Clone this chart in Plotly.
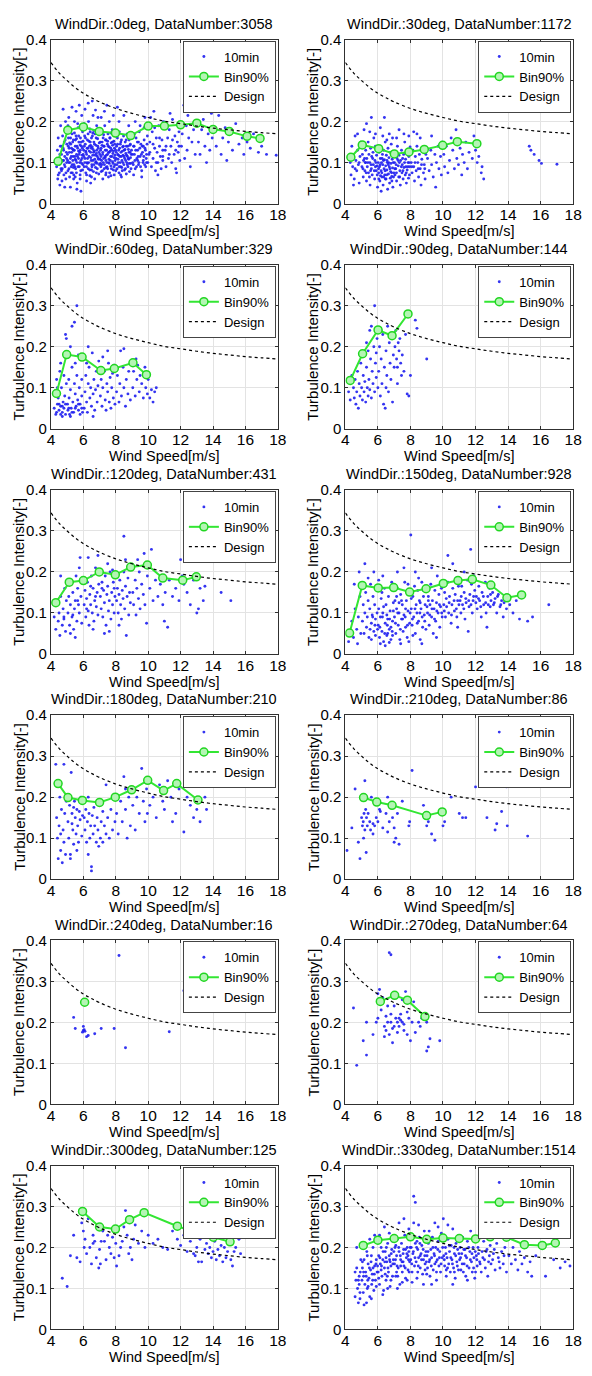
import plotly.graph_objects as go

W, H = 592, 1376

wind_dirs = [0, 30, 60, 90, 120, 150, 180, 210, 240, 270, 300, 330]
data_numbers = [3058, 1172, 329, 144, 431, 928, 210, 86, 16, 64, 125, 1514]

x_ticks = [4, 6, 8, 10, 12, 14, 16, 18]
y_ticks = [0, 0.1, 0.2, 0.3, 0.4]
y_tick_text = ["0", "0.1", "0.2", "0.3", "0.4"]

# Design curve values
design_ws = [4, 4.5, 5, 5.5, 6, 6.5, 7, 8, 9, 10, 11, 12, 13, 14, 15, 16, 17, 18]
design_ti = [0.344, 0.319, 0.300, 0.283, 0.269, 0.258, 0.248, 0.232, 0.220, 0.210,
             0.201, 0.195, 0.189, 0.184, 0.180, 0.176, 0.173, 0.170]

# Bin 90% values (wind speed, turbulence intensity)
bin_x_0 = [4.44, 5.04, 6.0, 6.98, 7.98, 8.92, 10.0, 11.0, 12.0, 13.0, 14.0, 15.0, 16.1, 16.9]
bin_y_0 = [0.103, 0.179, 0.187, 0.176, 0.172, 0.166, 0.189, 0.189, 0.192, 0.196, 0.181, 0.176, 0.164, 0.159]
bin_x_30 = [4.34, 5.04, 6.05, 7.01, 7.91, 8.85, 9.98, 10.88, 12.08]
bin_y_30 = [0.113, 0.143, 0.134, 0.121, 0.126, 0.132, 0.142, 0.151, 0.146]
bin_x_60 = [4.34, 4.97, 5.92, 7.08, 7.91, 9.06, 9.89]
bin_y_60 = [0.086, 0.181, 0.175, 0.142, 0.147, 0.161, 0.132]
bin_x_90 = [4.30, 5.06, 6.01, 6.87, 7.85]
bin_y_90 = [0.118, 0.183, 0.241, 0.227, 0.280]
bin_x_120 = [4.30, 5.13, 6.00, 6.98, 7.97, 8.92, 9.95, 10.90, 12.13, 12.97]
bin_y_120 = [0.125, 0.175, 0.179, 0.200, 0.193, 0.212, 0.217, 0.185, 0.180, 0.188]
bin_x_150 = [4.26, 5.04, 6.02, 6.97, 7.95, 8.96, 10.02, 10.92, 11.8, 12.94, 13.93, 14.83]
bin_y_150 = [0.051, 0.167, 0.161, 0.162, 0.151, 0.159, 0.172, 0.179, 0.182, 0.168, 0.137, 0.144]
bin_x_180 = [4.44, 5.05, 5.94, 7.00, 7.97, 8.98, 9.97, 10.95, 11.76, 13.07]
bin_y_180 = [0.233, 0.199, 0.192, 0.187, 0.200, 0.218, 0.241, 0.216, 0.233, 0.193]
bin_x_210 = [5.12, 5.93, 6.87, 8.99, 9.95]
bin_y_210 = [0.199, 0.188, 0.180, 0.155, 0.164]
bin_x_240 = [6.08]
bin_y_240 = [0.249]
bin_x_270 = [6.15, 7.03, 7.81, 8.89]
bin_y_270 = [0.251, 0.266, 0.254, 0.214]
bin_x_300 = [5.95, 7.0, 7.98, 8.85, 9.75, 11.8, 13.05, 14.02, 15.05]
bin_y_300 = [0.288, 0.250, 0.245, 0.268, 0.285, 0.252, 0.235, 0.225, 0.214]
bin_x_330 = [5.1, 6.0, 7.0, 8.0, 9.0, 10.0, 11.0, 12.0, 12.9, 13.9, 15.0, 16.1, 16.9]
bin_y_330 = [0.205, 0.218, 0.222, 0.226, 0.220, 0.223, 0.222, 0.221, 0.226, 0.225, 0.207, 0.205, 0.211]

# 10-minute samples (wind speed, turbulence intensity), read approximately from the clouds
pts_0 = [
    (4.35,.09),(4.4,.13),(4.42,.06),(4.45,.16),(4.5,.11),(4.52,.075),(4.55,.045),(4.58,.14),(4.6,.19),(4.62,.1),
    (4.65,.12),(4.68,.055),(4.7,.085),(4.72,.165),(4.75,.135),(4.78,.105),(4.8,.07),(4.82,.15),(4.85,.115),(4.87,.09),
    (4.9,.175),(4.92,.06),(4.95,.125),(4.97,.1),(4.98,.145),(4.5,.095),(4.65,.08),(4.85,.04),(4.9,.2),(4.75,.23),
    (5.02,.12),(5.05,.08),(5.08,.16),(5.1,.1),(5.12,.135),(5.15,.065),(5.18,.18),(5.2,.11),(5.22,.145),(5.25,.09),
    (5.28,.125),(5.3,.17),(5.32,.075),(5.35,.105),(5.38,.155),(5.4,.13),(5.42,.095),(5.45,.2),(5.48,.115),(5.5,.14),
    (5.52,.085),(5.55,.165),(5.58,.12),(5.6,.1),(5.62,.05),(5.65,.135),(5.68,.185),(5.7,.11),(5.72,.15),(5.75,.09),
    (5.78,.125),(5.8,.07),(5.82,.16),(5.85,.105),(5.88,.14),(5.9,.215),(5.92,.118),(5.95,.082),(5.98,.152),(5.1,.21),
    (5.3,.235),(5.55,.225),(5.75,.24),(5.2,.04),(5.6,.035),(5.85,.03),(5.4,.06),(5.05,.19),(5.65,.195),(5.95,.175),
    (5.15,.148),(5.35,.132),(5.5,.108),(5.7,.128),(5.9,.098),(5.25,.115),(5.45,.172),(5.8,.143),(5.58,.158),(5.38,.088),
    (6.02,.13),(6.05,.09),(6.08,.165),(6.1,.11),(6.12,.145),(6.15,.075),(6.18,.185),(6.2,.12),(6.22,.1),(6.25,.155),
    (6.28,.135),(6.3,.085),(6.32,.2),(6.35,.115),(6.38,.14),(6.4,.068),(6.42,.175),(6.45,.125),(6.48,.105),(6.5,.16),
    (6.52,.095),(6.55,.138),(6.58,.118),(6.6,.215),(6.62,.078),(6.65,.15),(6.68,.128),(6.7,.108),(6.72,.17),(6.75,.088),
    (6.78,.142),(6.8,.122),(6.82,.19),(6.85,.098),(6.88,.158),(6.9,.112),(6.92,.135),(6.95,.072),(6.98,.148),(6.1,.23),
    (6.3,.245),(6.55,.25),(6.75,.228),(6.9,.21),(6.2,.055),(6.45,.05),(6.7,.06),(6.05,.195),(6.4,.182),(6.65,.178),
    (6.95,.168),(6.15,.128),(6.35,.152),(6.5,.082),(6.6,.132),(6.85,.116),(6.25,.098),(6.45,.142),(6.78,.102),(6.58,.172),
    (7.02,.12),(7.05,.15),(7.08,.09),(7.1,.135),(7.12,.105),(7.15,.175),(7.18,.08),(7.2,.125),(7.22,.16),(7.25,.11),
    (7.28,.14),(7.3,.095),(7.32,.19),(7.35,.13),(7.38,.07),(7.4,.155),(7.42,.118),(7.45,.1),(7.48,.145),(7.5,.085),
    (7.52,.17),(7.55,.125),(7.58,.108),(7.6,.138),(7.62,.075),(7.65,.16),(7.68,.115),(7.7,.092),(7.72,.148),(7.75,.13),
    (7.78,.18),(7.8,.102),(7.82,.122),(7.85,.082),(7.88,.152),(7.9,.112),(7.92,.135),(7.95,.095),(7.98,.165),(7.1,.21),
    (7.3,.225),(7.6,.2),(7.85,.215),(7.45,.24),(7.2,.06),(7.55,.065),(7.9,.07),(7.15,.142),(7.35,.112),(7.65,.128),
    (7.05,.098),(7.25,.168),(7.5,.152),(7.7,.172),(7.4,.088),(7.8,.142),(7.95,.118),(7.6,.098),
    (8.02,.11),(8.05,.14),(8.08,.085),(8.1,.16),(8.12,.12),(8.15,.1),(8.18,.13),(8.2,.075),(8.22,.175),(8.25,.115),
    (8.28,.145),(8.3,.09),(8.32,.125),(8.35,.155),(8.38,.105),(8.4,.08),(8.42,.138),(8.45,.118),(8.48,.165),(8.5,.095),
    (8.52,.13),(8.55,.11),(8.58,.15),(8.6,.085),(8.62,.122),(8.65,.14),(8.68,.1),(8.7,.17),(8.72,.115),(8.75,.09),
    (8.78,.132),(8.8,.108),(8.82,.155),(8.85,.078),(8.88,.125),(8.9,.145),(8.92,.098),(8.95,.12),(8.98,.16),(8.2,.2),
    (8.5,.215),(8.8,.19),(8.35,.065),(8.65,.072),(8.1,.235),
    (9.05,.1),(9.1,.14),(9.15,.12),(9.2,.085),(9.25,.16),(9.3,.11),(9.35,.13),(9.4,.095),(9.45,.175),(9.5,.115),
    (9.55,.145),(9.6,.08),(9.65,.125),(9.7,.105),(9.75,.155),(9.8,.135),(9.85,.09),(9.9,.12),(9.95,.165),(9.2,.2),
    (9.5,.19),(9.8,.21),(9.1,.07),(9.6,.065),(9.35,.105),(9.7,.14),(9.9,.1),(9.4,.15),(9.15,.17),(9.75,.185),
    (10.05,.12),(10.1,.15),(10.2,.09),(10.25,.175),(10.3,.11),(10.4,.135),(10.45,.08),(10.5,.16),(10.55,.125),(10.6,.1),
    (10.65,.19),(10.7,.14),(10.75,.115),(10.8,.085),(10.85,.155),(10.9,.13),(10.95,.2),(10.15,.21),(10.35,.225),(10.6,.07),
    (10.9,.105),(10.4,.185),
    (11.05,.13),(11.1,.09),(11.2,.16),(11.25,.11),(11.3,.18),(11.4,.14),(11.45,.1),(11.5,.205),(11.6,.12),(11.65,.165),
    (11.7,.085),(11.8,.15),(11.85,.125),(11.9,.175),(11.95,.105),(11.35,.22),(11.75,.075),(11.15,.19),
    (12.05,.14),(12.1,.17),(12.2,.24),(12.25,.11),(12.35,.19),(12.4,.13),(12.5,.16),(12.6,.09),(12.7,.283),(12.7,.15),
    (12.8,.18),(12.9,.12),(12.95,.2),(12.45,.215),
    (13.1,.15),(13.2,.12),(13.3,.18),(13.4,.205),(13.5,.14),(13.6,.1),(13.7,.17),(13.8,.13),(13.9,.22),(13.95,.16),
    (14.1,.175),(14.2,.14),(14.35,.215),(14.5,.12),(14.6,.16),(14.75,.185),(14.85,.105),(14.95,.15),
    (15.1,.17),(15.2,.13),(15.4,.195),(15.6,.145),(15.8,.16),(15.9,.12),
    (16.1,.15),(16.3,.135),(16.5,.17),(16.8,.125),(17.0,.14),(17.3,.12),(17.9,.118),
    # denser core
    (5.03,.105),(5.07,.14),(5.11,.085),(5.14,.125),(5.17,.1),(5.21,.16),(5.24,.075),(5.27,.135),(5.31,.095),(5.34,.15),
    (5.37,.115),(5.41,.07),(5.44,.13),(5.47,.09),(5.51,.155),(5.54,.105),(5.57,.075),(5.61,.14),(5.64,.115),(5.67,.09),
    (5.71,.165),(5.74,.12),(5.77,.1),(5.81,.13),(5.84,.08),(5.87,.15),(5.91,.11),(5.94,.135),(5.97,.095),(5.99,.12),
    (6.03,.115),(6.06,.14),(6.09,.1),(6.13,.16),(6.16,.125),(6.19,.09),(6.23,.135),(6.26,.11),(6.29,.17),(6.33,.1),
    (6.36,.128),(6.39,.082),(6.43,.15),(6.46,.112),(6.49,.135),(6.53,.09),(6.56,.165),(6.59,.105),(6.63,.125),(6.66,.095),
    (6.69,.145),(6.73,.118),(6.76,.1),(6.79,.16),(6.83,.13),(6.86,.085),(6.89,.14),(6.93,.108),(6.96,.125),(6.99,.095),
    (7.03,.108),(7.06,.13),(7.09,.115),(7.13,.095),(7.16,.15),(7.19,.12),(7.23,.1),(7.26,.14),(7.29,.085),(7.33,.115),
    (7.36,.155),(7.39,.105),(7.43,.13),(7.46,.09),(7.49,.12),(7.53,.14),(7.56,.1),(7.59,.125),(7.63,.16),(7.66,.105),
    (7.69,.135),(7.73,.085),(7.76,.115),(7.79,.15),(7.83,.098),(7.86,.128),(7.89,.09),(7.93,.145),(7.96,.105),(7.99,.13),
    (8.03,.125),(8.07,.095),(8.11,.145),(8.14,.108),(8.17,.118),(8.21,.09),(8.24,.135),(8.27,.1),(8.31,.15),(8.34,.115),
    (8.37,.088),(8.41,.128),(8.44,.1),(8.47,.14),(8.51,.115),(8.54,.082),(8.57,.132),(8.61,.105),(8.64,.155),(8.67,.118),
    (8.71,.095),(8.74,.14),(8.77,.11),(8.81,.125),(8.84,.098),(8.87,.142),(8.91,.112),(8.94,.085),(8.97,.13),
    (9.03,.12),(9.08,.095),(9.13,.14),(9.18,.105),(9.23,.13),(9.28,.09),(9.33,.15),(9.38,.115),(9.43,.1),(9.48,.135),
    (9.53,.09),(9.58,.12),(9.63,.14),(9.68,.1),(9.73,.115),(9.78,.095),(9.83,.13),(9.88,.11),(9.93,.145),(9.98,.1),
    (4.55,.12),(4.62,.085),(4.68,.14),(4.72,.105),(4.78,.13),(4.83,.095),(4.88,.155),(4.93,.075),(4.96,.11),(4.45,.07),
    (10.1,.125),(10.3,.145),(10.5,.1),(10.7,.16),(10.9,.115),(11.1,.14),(11.3,.12),(11.5,.155),(11.7,.13),(11.9,.14),
    (6.2,.07),(6.5,.065),(6.8,.075),(7.1,.078),(7.4,.075),(7.7,.068),(5.5,.065),(5.8,.06),(8.0,.08),(8.3,.07),
]

pts_30 = [
    (4.3,.1),(4.35,.07),(4.4,.14),(4.45,.09),(4.5,.12),(4.55,.06),(4.6,.165),(4.65,.105),(4.7,.08),(4.75,.13),
    (4.8,.095),(4.85,.05),(4.9,.115),(4.95,.15),(4.5,.045),(4.75,.17),
    (5.02,.09),(5.05,.12),(5.1,.065),(5.12,.105),(5.15,.14),(5.2,.08),(5.22,.1),(5.25,.13),(5.3,.055),(5.32,.11),
    (5.35,.09),(5.4,.15),(5.42,.075),(5.45,.12),(5.5,.1),(5.52,.045),(5.55,.135),(5.6,.085),(5.62,.115),(5.65,.07),
    (5.7,.125),(5.72,.095),(5.75,.16),(5.8,.06),(5.82,.105),(5.85,.14),(5.9,.08),(5.92,.118),(5.95,.092),(5.98,.04),
    (5.6,.21),(5.3,.195),(5.5,.175),(5.15,.18),(5.85,.17),
    (6.02,.1),(6.05,.075),(6.08,.125),(6.1,.09),(6.12,.055),(6.15,.11),(6.18,.14),(6.2,.08),(6.22,.1),(6.25,.065),
    (6.28,.12),(6.3,.095),(6.32,.045),(6.35,.13),(6.38,.085),(6.4,.107),(6.42,.07),(6.45,.15),(6.48,.092),(6.5,.06),
    (6.52,.118),(6.55,.082),(6.58,.1),(6.6,.035),(6.62,.135),(6.65,.072),(6.68,.112),(6.7,.09),(6.72,.05),(6.75,.125),
    (6.78,.078),(6.8,.098),(6.82,.145),(6.85,.066),(6.88,.108),(6.9,.087),(6.92,.04),(6.95,.12),(6.98,.075),(6.4,.21),
    (6.15,.185),(6.7,.17),(6.3,.165),(6.9,.16),(6.55,.155),(6.2,.03),
    (7.02,.1),(7.05,.07),(7.08,.125),(7.1,.085),(7.15,.055),(7.18,.11),(7.2,.14),(7.25,.092),(7.28,.065),(7.3,.118),
    (7.35,.08),(7.38,.045),(7.4,.105),(7.45,.13),(7.48,.075),(7.5,.095),(7.55,.06),(7.58,.12),(7.6,.088),(7.65,.15),
    (7.68,.07),(7.7,.108),(7.75,.05),(7.78,.128),(7.8,.082),(7.85,.1),(7.88,.062),(7.9,.115),(7.95,.09),(7.98,.138),
    (7.3,.18),(7.6,.17),(7.15,.16),(7.9,.165),
    (8.05,.1),(8.1,.075),(8.15,.13),(8.2,.09),(8.25,.055),(8.3,.115),(8.35,.08),(8.4,.14),(8.45,.1),(8.5,.065),
    (8.55,.12),(8.6,.085),(8.65,.045),(8.7,.108),(8.75,.13),(8.8,.075),(8.85,.095),(8.9,.06),(8.95,.12),(8.2,.175),
    (8.6,.16),(8.4,.17),
    (9.05,.11),(9.15,.08),(9.25,.13),(9.3,.095),(9.4,.065),(9.5,.12),(9.55,.04),(9.6,.1),(9.7,.14),(9.75,.085),
    (9.85,.115),(9.9,.07),(9.95,.15),(9.3,.165),
    (10.05,.12),(10.1,.09),(10.2,.14),(10.3,.075),(10.4,.105),(10.5,.16),(10.6,.13),(10.7,.085),(10.8,.18),(10.85,.11),
    (10.95,.095),(11.05,.135),(11.15,.07),(11.2,.12),(11.3,.1),(11.4,.15),(11.5,.085),(11.6,.125),(11.8,.11),(11.9,.165),
    (12.0,.13),(12.1,.1),(12.2,.115),(12.35,.075),(12.5,.06),(12.4,.09),
    (15.3,.14),(15.4,.13),(15.6,.12),(15.9,.105),(16.05,.098),(17.0,.096),
    # denser core
    (5.08,.085),(5.18,.11),(5.28,.075),(5.38,.1),(5.48,.065),(5.58,.095),(5.68,.11),(5.78,.08),(5.88,.1),(5.96,.07),
    (6.04,.085),(6.14,.095),(6.24,.075),(6.34,.105),(6.44,.08),(6.54,.07),(6.64,.095),(6.74,.085),(6.84,.075),(6.94,.1),
    (6.06,.06),(6.26,.11),(6.46,.06),(6.66,.1),(6.86,.055),(6.36,.065),(6.56,.105),(6.76,.062),(6.16,.068),(6.96,.065),
    (7.04,.085),(7.14,.075),(7.24,.105),(7.34,.065),(7.44,.09),(7.54,.08),(7.64,.1),(7.74,.075),(7.84,.09),(7.94,.07),
    (7.12,.095),(7.32,.1),(7.52,.11),(7.72,.09),(7.92,.1),
    (8.08,.09),(8.28,.1),(8.48,.085),(8.68,.095),(8.88,.085),(5.25,.1),(5.55,.08),(5.85,.09),(4.6,.085),(4.85,.1),
]

pts_60 = [
    (4.2,.05),(4.25,.09),(4.3,.035),(4.35,.12),(4.4,.06),(4.45,.075),(4.5,.045),(4.55,.14),(4.6,.055),(4.65,.1),
    (4.7,.04),(4.75,.065),(4.8,.05),(4.85,.08),(4.9,.035),(4.95,.11),(4.9,.23),(4.95,.22),(4.6,.16),(4.8,.13),
    (4.4,.1),(4.7,.03),
    (5.02,.06),(5.05,.045),(5.1,.12),(5.12,.075),(5.15,.035),(5.2,.095),(5.25,.05),(5.3,.15),(5.35,.065),(5.4,.04),
    (5.45,.11),(5.5,.085),(5.55,.055),(5.6,.13),(5.65,.07),(5.7,.045),(5.75,.1),(5.8,.06),(5.85,.17),(5.9,.08),
    (5.95,.04),(5.3,.25),(5.45,.26),(5.6,.3),(5.2,.2),(5.7,.18),(5.5,.16),(5.9,.12),
    (6.05,.05),(6.1,.09),(6.15,.13),(6.2,.065),(6.25,.04),(6.3,.11),(6.35,.15),(6.4,.075),(6.45,.1),(6.5,.055),
    (6.55,.185),(6.6,.085),(6.65,.12),(6.7,.045),(6.75,.095),(6.8,.14),(6.85,.065),(6.9,.105),(6.95,.165),(6.3,.2),
    (6.6,.03),(6.2,.16),
    (7.05,.08),(7.1,.12),(7.15,.055),(7.2,.1),(7.3,.14),(7.35,.07),(7.4,.045),(7.45,.11),(7.5,.09),(7.55,.16),
    (7.6,.065),(7.65,.125),(7.7,.05),(7.75,.1),(7.8,.135),(7.85,.075),(7.9,.155),(7.95,.06),(7.5,.19),(7.2,.175),
    (8.05,.09),(8.1,.13),(8.2,.065),(8.25,.11),(8.3,.19),(8.35,.08),(8.45,.15),(8.5,.1),(8.6,.055),(8.65,.12),
    (8.75,.085),(8.8,.14),(8.9,.07),(8.95,.165),(8.5,.195),
    (9.05,.1),(9.1,.14),(9.2,.08),(9.3,.12),(9.35,.155),(9.45,.09),(9.5,.13),(9.6,.11),(9.7,.075),(9.8,.15),
    (9.85,.1),(9.95,.085),(10.0,.12),(10.1,.075),(10.2,.095),(10.3,.065),(10.4,.09),(10.5,.1),(9.25,.17),
    (4.5,.06),(4.7,.055),(4.9,.06),(5.1,.05),(5.3,.04),(5.5,.05),(5.7,.06),(5.9,.05),(4.35,.04),(4.6,.035),
    (5.2,.03),(5.8,.035),
]

pts_90 = [
    (4.2,.09),(4.3,.07),(4.4,.13),(4.5,.1),(4.55,.075),(4.6,.12),(4.65,.06),(4.7,.09),(4.75,.14),(4.8,.05),
    (4.85,.11),(4.9,.08),(4.95,.16),(5.0,.1),(5.05,.07),(5.1,.13),(5.15,.09),(5.2,.115),(5.25,.065),(5.3,.15),
    (5.35,.1),(5.4,.08),(5.45,.12),(5.5,.095),(5.55,.17),(5.6,.075),(5.65,.14),(5.7,.11),(5.75,.2),(5.8,.09),
    (5.85,.16),(5.9,.125),(5.95,.22),(5.3,.21),(5.5,.24),(5.8,.3),(5.6,.25),(5.4,.19),(5.9,.185),
    (6.0,.1),(6.05,.14),(6.1,.2),(6.15,.08),(6.2,.17),(6.25,.11),(6.3,.23),(6.35,.06),(6.4,.15),(6.45,.05),
    (6.5,.19),(6.55,.13),(6.6,.25),(6.65,.09),(6.7,.21),(6.75,.16),(6.8,.12),(6.85,.23),(6.9,.065),(6.95,.18),
    (7.0,.15),(7.05,.2),(7.1,.24),(7.15,.17),(7.2,.15),(7.25,.21),(7.3,.19),(7.35,.22),(7.4,.16),(7.45,.13),
    (7.5,.18),(7.6,.14),(7.7,.23),(7.8,.085),(7.9,.08),(8.0,.13),(8.3,.265),(8.4,.245),(9.0,.17),(6.2,.24),
    (6.5,.1),(7.2,.11),
]

pts_120 = [
    (4.2,.09),(4.3,.06),(4.35,.12),(4.45,.08),(4.5,.1),(4.55,.045),(4.6,.14),(4.7,.07),(4.75,.11),(4.8,.09),
    (4.85,.16),(4.9,.055),(4.95,.13),(4.6,.19),(4.8,.085),
    (5.05,.1),(5.1,.14),(5.15,.07),(5.2,.12),(5.25,.17),(5.3,.09),(5.35,.15),(5.4,.06),(5.45,.11),(5.5,.13),
    (5.55,.19),(5.6,.08),(5.65,.16),(5.7,.12),(5.75,.1),(5.8,.235),(5.85,.14),(5.9,.075),(5.95,.18),(5.2,.05),
    (5.5,.04),(5.75,.21),(5.35,.095),(5.65,.13),
    (6.05,.12),(6.1,.155),(6.15,.09),(6.2,.135),(6.25,.175),(6.3,.105),(6.35,.07),(6.4,.145),(6.45,.12),(6.5,.19),
    (6.55,.1),(6.6,.16),(6.65,.08),(6.7,.13),(6.75,.21),(6.8,.115),(6.85,.15),(6.9,.095),(6.95,.17),(6.3,.235),
    (6.6,.06),(6.9,.24),(6.2,.11),(6.45,.165),(6.75,.14),
    (7.05,.14),(7.1,.11),(7.15,.175),(7.2,.09),(7.25,.155),(7.3,.125),(7.35,.19),(7.4,.07),(7.45,.145),(7.5,.165),
    (7.55,.105),(7.6,.13),(7.65,.2),(7.7,.085),(7.75,.15),(7.8,.12),(7.85,.175),(7.9,.1),(7.95,.14),(7.3,.05),
    (7.6,.055),(7.5,.22),(7.8,.205),(7.15,.16),(7.9,.16),
    (8.05,.13),(8.1,.16),(8.15,.1),(8.2,.145),(8.25,.18),(8.3,.12),(8.35,.085),(8.4,.155),(8.45,.135),(8.5,.287),
    (8.5,.2),(8.55,.11),(8.6,.165),(8.65,.045),(8.7,.14),(8.75,.185),(8.8,.095),(8.85,.15),(8.9,.125),(8.95,.21),
    (8.2,.07),(8.6,.23),
    (9.05,.15),(9.1,.12),(9.2,.18),(9.25,.095),(9.3,.16),(9.4,.135),(9.45,.2),(9.5,.11),(9.6,.17),(9.7,.145),
    (9.75,.245),(9.8,.12),(9.9,.075),(9.95,.19),(9.35,.23),
    (10.1,.16),(10.2,.255),(10.3,.13),(10.45,.18),(10.6,.14),(10.75,.17),(10.9,.12),(11.05,.15),(11.2,.065),(11.3,.18),
    (11.5,.14),(11.7,.16),(11.9,.13),(12.0,.23),(12.2,.17),(12.4,.15),(12.6,.12),(12.8,.18),(13.0,.1),(13.1,.11),
    (13.2,.16),(13.4,.13),(13.5,.165),(14.5,.15),(15.1,.13),(11.0,.08),(12.1,.19),
]

pts_150 = [
    (4.2,.03),(4.3,.05),(4.4,.08),(4.5,.04),(4.6,.11),(4.7,.06),(4.8,.09),(4.9,.14),(4.95,.05),(4.55,.17),
    (4.85,.2),(4.75,.025),
    (5.05,.08),(5.1,.12),(5.15,.05),(5.2,.1),(5.25,.15),(5.3,.065),(5.35,.09),(5.4,.13),(5.45,.04),(5.5,.11),
    (5.55,.17),(5.6,.075),(5.65,.095),(5.7,.14),(5.75,.055),(5.8,.12),(5.85,.085),(5.9,.16),(5.95,.1),(5.2,.22),
    (5.6,.035),(5.85,.045),(5.4,.185),(5.75,.2),
    (6.02,.07),(6.05,.11),(6.1,.04),(6.15,.09),(6.2,.135),(6.25,.055),(6.3,.1),(6.35,.03),(6.4,.16),(6.45,.075),
    (6.5,.12),(6.55,.045),(6.6,.085),(6.65,.14),(6.7,.06),(6.75,.105),(6.8,.035),(6.85,.175),(6.9,.08),(6.95,.125),
    (6.15,.025),(6.45,.02),(6.7,.028),(6.3,.19),(6.6,.05),(6.9,.045),(6.25,.15),(6.55,.095),(6.8,.065),(6.05,.18),
    (7.02,.09),(7.05,.13),(7.1,.05),(7.15,.11),(7.2,.16),(7.25,.07),(7.3,.1),(7.35,.035),(7.4,.145),(7.45,.085),
    (7.5,.12),(7.55,.055),(7.6,.095),(7.65,.175),(7.7,.065),(7.75,.13),(7.8,.04),(7.85,.105),(7.9,.15),(7.95,.075),
    (7.2,.2),(7.6,.21),(7.4,.025),(7.9,.03),(7.3,.125),(7.7,.11),(7.15,.14),(7.85,.17),
    (8.02,.29),(8.05,.11),(8.1,.07),(8.15,.14),(8.2,.09),(8.25,.165),(8.3,.05),(8.35,.12),(8.4,.1),(8.45,.155),
    (8.5,.08),(8.55,.13),(8.6,.035),(8.65,.11),(8.7,.175),(8.75,.065),(8.8,.14),(8.85,.095),(8.9,.12),(8.95,.06),
    (8.3,.2),(8.7,.025),(8.5,.185),(8.15,.045),(8.8,.155),
    (9.05,.1),(9.1,.14),(9.15,.07),(9.2,.12),(9.25,.17),(9.3,.09),(9.35,.13),(9.4,.05),(9.45,.11),(9.5,.155),
    (9.55,.08),(9.6,.125),(9.65,.19),(9.7,.1),(9.75,.145),(9.8,.065),(9.85,.115),(9.9,.16),(9.95,.09),(9.3,.21),
    (9.6,.04),
    (10.05,.12),(10.1,.15),(10.15,.09),(10.2,.135),(10.3,.175),(10.35,.1),(10.4,.14),(10.5,.075),(10.55,.12),(10.6,.16),
    (10.7,.105),(10.75,.145),(10.8,.185),(10.85,.09),(10.9,.13),(10.95,.165),(10.3,.24),(10.6,.22),(10.9,.065),
    (11.05,.13),(11.1,.1),(11.15,.165),(11.2,.12),(11.3,.15),(11.35,.085),(11.4,.135),(11.5,.18),(11.55,.055),(11.6,.115),
    (11.65,.145),(11.7,.255),(11.75,.17),(11.8,.1),(11.85,.13),(11.9,.19),(11.95,.155),(11.3,.2),
    (12.05,.14),(12.1,.11),(12.2,.165),(12.25,.13),(12.35,.09),(12.4,.15),(12.5,.12),(12.6,.175),(12.65,.1),(12.7,.065),
    (12.75,.14),(12.85,.16),(12.9,.115),(12.95,.13),
    (13.05,.15),(13.1,.12),(13.2,.135),(13.3,.1),(13.4,.145),(13.5,.115),(13.6,.13),(13.7,.09),(13.8,.14),(13.9,.11),
    (14.1,.12),(14.3,.1),(14.5,.13),(14.7,.085),(15.2,.08),(15.5,.09),(16.5,.12),
    # denser core
    (6.12,.065),(6.28,.09),(6.42,.05),(6.58,.07),(6.72,.085),(6.88,.055),(7.08,.075),(7.22,.1),(7.38,.06),(7.52,.085),
    (7.68,.09),(7.82,.07),(7.98,.1),(8.12,.085),(8.28,.11),(8.42,.075),(8.58,.1),(8.72,.09),(8.88,.08),(9.02,.115),
    (9.18,.095),(9.32,.11),(9.48,.085),(9.62,.105),(9.78,.12),(9.92,.1),(10.08,.105),(10.22,.115),(10.38,.125),(10.52,.095),
    (10.68,.13),(10.82,.11),(10.98,.12),(11.12,.14),(11.28,.11),(11.42,.125),(11.58,.13),(11.72,.12),(11.88,.14),(12.02,.125),
    (12.18,.135),(12.32,.115),(12.48,.14),(12.62,.125),(12.78,.12),(12.92,.145),(13.15,.125),(13.35,.14),(13.55,.12),(13.75,.125),
    (5.52,.06),(5.68,.09),(5.82,.07),(5.98,.06),(6.35,.115),(6.95,.105),(7.45,.13),(8.05,.135),(8.6,.125),(9.1,.13),
]

pts_180 = [
    (4.3,.28),(4.35,.15),(4.4,.1),(4.45,.05),(4.5,.13),(4.55,.2),(4.6,.07),(4.65,.17),(4.7,.04),(4.75,.12),
    (4.8,.09),(4.85,.16),(4.9,.06),(4.95,.19),(4.8,.28),(4.6,.11),
    (5.05,.14),(5.1,.1),(5.15,.18),(5.2,.06),(5.25,.26),(5.3,.16),(5.35,.12),(5.4,.085),(5.45,.19),(5.5,.15),
    (5.55,.11),(5.6,.17),(5.65,.13),(5.7,.09),(5.75,.165),(5.8,.145),(5.85,.2),(5.9,.105),(5.95,.155),(5.2,.05),
    (5.4,.175),(5.6,.07),(5.3,.135),
    (6.05,.15),(6.1,.12),(6.15,.17),(6.2,.09),(6.25,.14),(6.3,.2),(6.35,.16),(6.4,.1),(6.45,.13),(6.5,.03),
    (6.5,.02),(6.55,.155),(6.6,.11),(6.65,.175),(6.7,.13),(6.8,.09),(6.85,.15),(6.9,.12),(6.95,.08),(6.3,.06),
    (7.05,.1),(7.1,.14),(7.2,.09),(7.3,.13),(7.4,.11),(7.5,.15),(7.6,.1),(7.7,.17),(7.8,.12),(7.9,.2),
    (7.95,.14),(7.4,.23),(7.2,.165),
    (8.05,.16),(8.15,.11),(8.3,.19),(8.4,.14),(8.5,.25),(8.6,.17),(8.7,.1),(8.8,.2),(8.9,.13),(8.6,.22),
    (9.05,.18),(9.2,.12),(9.3,.2),(9.45,.16),(9.6,.27),(9.7,.19),(9.8,.14),(9.9,.22),(9.95,.16),
    (10.1,.18),(10.3,.2),(10.5,.15),(10.7,.23),(10.9,.19),(11.0,.17),(11.2,.24),(11.4,.2),(11.5,.14),(11.7,.16),
    (11.9,.22),(12.2,.115),(12.4,.2),(12.6,.18),(12.8,.15),(13.0,.17),(13.2,.14),(13.5,.2),(13.6,.17),(13.8,.235),
]

pts_210 = [
    (4.1,.07),(4.4,.125),(4.6,.22),(4.9,.05),(5.0,.15),(5.05,.13),(5.1,.14),(5.12,.1),(5.15,.16),(5.2,.24),
    (5.2,.12),(5.25,.17),(5.28,.065),(5.3,.15),(5.35,.13),(5.4,.16),(5.5,.14),(5.55,.12),(5.6,.2),(5.7,.135),
    (5.8,.13),(5.9,.15),(6.0,.14),(6.1,.17),(6.15,.165),(6.3,.125),(6.5,.16),(6.6,.2),(6.6,.115),(6.7,.14),
    (6.9,.15),(7.0,.125),(7.0,.09),(7.1,.1),(7.2,.16),(7.3,.085),(7.5,.19),(7.9,.13),(7.95,.14),(8.1,.265),
    (8.8,.18),(9.0,.13),(9.1,.14),(9.3,.11),(9.5,.095),(10.0,.13),(10.1,.14),(10.5,.2),(11.0,.16),(11.2,.15),
    (11.4,.15),(12.0,.225),(12.7,.15),(13.2,.12),(13.3,.135),(13.6,.165),(13.9,.225),(13.95,.13),(15.2,.105),(4.8,.09),
    (5.7,.11),
]

pts_240 = [
    (8.2,.363),(12.2,.277),(5.4,.212),(5.5,.185),(6.0,.19),(6.0,.18),(6.1,.178),(6.2,.165),(6.3,.168),(6.7,.172),
    (7.1,.185),(7.9,.185),(8.6,.138),(11.3,.177),(6.05,.182),(5.95,.176),
]

pts_270 = [
    (6.7,.37),(6.8,.365),(4.5,.235),(4.7,.095),(5.1,.155),(5.3,.2),(5.3,.12),(5.7,.17),(6.0,.27),(6.1,.28),
    (6.2,.23),(6.3,.25),(6.4,.19),(6.5,.18),(6.6,.2),(6.7,.17),(6.8,.22),(6.9,.15),(7.0,.19),(7.1,.21),
    (7.2,.2),(7.3,.19),(7.4,.22),(7.5,.2),(7.6,.18),(7.7,.275),(7.8,.17),(7.9,.21),(8.0,.155),(8.1,.2),
    (8.2,.25),(8.5,.2),(8.6,.19),(9.0,.2),(9.0,.13),(9.1,.14),(9.2,.16),(9.8,.155),(6.0,.21),(6.3,.26),
    (6.5,.215),(6.6,.24),(6.9,.185),(7.0,.24),(7.2,.175),(7.4,.205),(7.5,.255),(7.6,.195),(7.8,.225),(6.4,.165),
    (5.9,.2),(6.8,.2),(7.3,.21),(8.3,.175),(8.7,.21),
]

pts_300 = [
    (4.7,.125),(5.0,.105),(5.2,.18),(5.4,.23),(5.6,.175),(5.8,.165),(5.9,.26),(6.0,.24),(6.05,.2),(6.1,.22),
    (6.2,.185),(6.3,.27),(6.4,.2),(6.5,.16),(6.6,.23),(6.7,.215),(6.8,.175),(6.9,.25),(6.95,.15),(7.0,.195),
    (7.1,.215),(7.2,.24),(7.3,.215),(7.4,.17),(7.5,.23),(7.6,.2),(7.7,.185),(7.8,.225),(7.9,.175),(8.0,.21),
    (8.05,.155),(8.1,.24),(8.2,.18),(8.3,.2),(8.4,.215),(8.5,.25),(8.6,.29),(8.7,.23),(8.8,.185),(8.9,.2),
    (9.0,.17),(9.1,.22),(9.2,.255),(9.4,.21),(9.6,.24),(9.8,.2),(10.0,.23),(10.3,.21),(10.6,.22),(10.9,.2),
    (11.2,.195),(11.5,.24),(11.6,.25),(11.8,.22),(12.0,.205),(12.2,.23),(12.4,.19),(12.6,.215),(12.8,.185),(13.0,.2),
    (13.1,.165),(13.2,.22),(13.3,.165),(13.4,.24),(13.5,.195),(13.6,.21),(13.7,.185),(13.8,.2),(13.9,.175),(14.0,.19),
    (14.1,.215),(14.2,.17),(14.3,.195),(14.4,.18),(14.5,.205),(14.6,.165),(14.7,.2),(14.8,.175),(14.9,.19),(15.0,.215),
    (15.1,.17),(15.2,.155),(15.3,.19),(15.4,.2),(15.6,.22),(15.7,.185),(6.6,.21),(7.05,.16),(12.9,.18),
]

pts_330 = [
    (4.6,.08),(4.65,.12),(4.7,.15),(4.75,.1),(4.8,.065),(4.85,.13),(4.9,.09),(4.95,.17),(4.7,.2),(4.85,.11),
    (4.6,.14),(4.9,.075),
    (5.02,.12),(5.05,.15),(5.1,.09),(5.12,.13),(5.15,.17),(5.2,.11),(5.25,.14),(5.3,.065),(5.32,.19),(5.35,.1),
    (5.4,.16),(5.45,.125),(5.5,.08),(5.55,.145),(5.6,.18),(5.62,.11),(5.65,.135),(5.7,.2),(5.75,.095),(5.8,.155),
    (5.85,.12),(5.9,.17),(5.95,.14),(5.2,.2),(5.5,.22),(5.8,.23),(5.4,.105),(5.7,.15),(5.15,.06),(5.6,.075),
    (5.9,.105),(5.35,.18),(5.05,.165),
    (6.02,.14),(6.05,.18),(6.1,.11),(6.15,.16),(6.2,.2),(6.25,.13),(6.3,.17),(6.35,.095),(6.4,.15),(6.45,.19),
    (6.5,.12),(6.55,.165),(6.6,.21),(6.65,.14),(6.7,.18),(6.75,.105),(6.8,.155),(6.85,.195),(6.9,.13),(6.95,.17),
    (6.1,.23),(6.4,.25),(6.7,.235),(6.3,.085),(6.6,.1),(6.9,.215),(6.2,.145),(6.5,.175),(6.8,.12),(6.05,.125),
    (6.45,.135),(6.75,.165),
    (7.02,.16),(7.05,.2),(7.1,.13),(7.15,.18),(7.2,.22),(7.25,.15),(7.3,.19),(7.35,.11),(7.4,.17),(7.45,.21),
    (7.5,.14),(7.55,.185),(7.6,.155),(7.65,.23),(7.7,.125),(7.75,.175),(7.8,.2),(7.85,.145),(7.9,.19),(7.95,.165),
    (7.3,.26),(7.6,.27),(7.9,.245),(7.2,.1),(7.5,.115),(7.8,.12),(7.1,.205),(7.4,.155),(7.7,.195),(7.15,.14),
    (7.55,.165),(7.85,.18),
    (8.02,.17),(8.05,.2),(8.1,.14),(8.15,.185),(8.2,.325),(8.25,.155),(8.3,.31),(8.3,.21),(8.35,.165),(8.4,.125),
    (8.45,.195),(8.5,.175),(8.55,.225),(8.6,.15),(8.65,.185),(8.7,.205),(8.75,.135),(8.8,.17),(8.85,.24),(8.9,.16),
    (8.95,.19),(8.2,.26),(8.5,.255),(8.8,.11),(8.1,.115),(8.6,.18),(8.4,.215),(8.9,.145),
    (9.02,.18),(9.05,.15),(9.1,.21),(9.15,.165),(9.2,.13),(9.25,.195),(9.3,.175),(9.35,.225),(9.4,.145),(9.45,.185),
    (9.5,.26),(9.5,.16),(9.55,.2),(9.6,.12),(9.65,.17),(9.7,.215),(9.75,.155),(9.8,.19),(9.85,.14),(9.9,.235),
    (9.95,.175),(9.3,.11),(9.7,.25),(9.15,.24),
    (10.02,.27),(10.05,.18),(10.1,.155),(10.15,.2),(10.2,.13),(10.25,.175),(10.3,.22),(10.35,.16),(10.4,.19),(10.45,.14),
    (10.5,.205),(10.55,.17),(10.6,.245),(10.65,.15),(10.7,.185),(10.75,.125),(10.8,.21),(10.85,.165),(10.9,.195),(10.95,.145),
    (10.3,.255),(10.6,.11),
    (11.02,.17),(11.05,.2),(11.1,.145),(11.15,.185),(11.2,.225),(11.3,.16),(11.35,.195),(11.4,.13),(11.45,.175),(11.5,.215),
    (11.6,.15),(11.65,.19),(11.7,.24),(11.75,.165),(11.8,.14),(11.85,.2),(11.9,.175),(11.95,.125),(11.5,.12),
    (12.05,.18),(12.1,.155),(12.15,.2),(12.25,.165),(12.3,.28),(12.35,.14),(12.4,.19),(12.5,.215),(12.55,.17),(12.6,.15),
    (12.7,.195),(12.75,.13),(12.85,.18),(12.9,.205),(12.95,.16),
    (13.0,.285),(13.05,.17),(13.15,.195),(13.2,.145),(13.3,.21),(13.4,.175),(13.5,.15),(13.6,.19),(13.7,.16),(13.8,.2),
    (13.9,.14),(14.1,.275),
    (14.05,.18),(14.2,.16),(14.3,.2),(14.45,.17),(14.6,.145),(14.7,.19),(14.85,.16),(15.0,.175),(15.1,.2),(15.2,.14),
    (15.35,.165),(15.45,.13),
    (15.7,.18),(16.0,.2),(16.3,.13),(16.5,.23),(16.8,.17),(17.2,.15),(17.5,.165),(17.8,.155),
    # denser core
    (6.12,.175),(6.22,.155),(6.32,.19),(6.42,.165),(6.52,.2),(6.62,.15),(6.72,.17),(6.82,.185),(6.92,.16),(6.98,.19),
    (7.08,.17),(7.18,.155),(7.28,.2),(7.38,.18),(7.48,.165),(7.58,.195),(7.68,.15),(7.78,.185),(7.88,.17),(7.98,.2),
    (8.08,.16),(8.18,.19),(8.28,.175),(8.38,.2),(8.48,.155),(8.58,.21),(8.68,.17),(8.78,.195),(8.88,.18),(8.98,.165),
    (9.08,.19),(9.18,.17),(9.28,.155),(9.38,.2),(9.48,.18),(9.58,.165),(9.68,.195),(9.78,.175),(9.88,.16),(9.98,.2),
    (10.08,.17),(10.18,.185),(10.28,.15),(10.38,.205),(10.48,.175),(10.58,.16),(10.68,.2),(10.78,.18),(10.88,.155),(10.98,.185),
    (11.08,.175),(11.18,.16),(11.28,.195),(11.38,.18),(11.48,.155),(11.58,.2),(11.68,.17),(11.78,.185),(11.88,.15),(11.98,.19),
    (12.08,.17),(12.18,.185),(12.28,.16),(12.45,.175),(12.65,.19),(12.8,.165),(5.28,.13),(5.48,.15),(5.68,.12),(5.88,.16),
    (5.12,.14),(5.38,.12),(5.58,.165),(5.78,.135),(5.98,.155),(4.8,.12),(4.92,.14),(6.58,.13),(7.22,.13),(7.92,.14),
    (8.45,.14),(9.0,.135),(9.6,.14),(10.2,.145),(10.7,.14),(11.25,.14),(12.0,.14),(13.1,.185),(13.45,.165),(13.75,.18),
]

panels = [
    (pts_0, bin_x_0, bin_y_0), (pts_30, bin_x_30, bin_y_30),
    (pts_60, bin_x_60, bin_y_60), (pts_90, bin_x_90, bin_y_90),
    (pts_120, bin_x_120, bin_y_120), (pts_150, bin_x_150, bin_y_150),
    (pts_180, bin_x_180, bin_y_180), (pts_210, bin_x_210, bin_y_210),
    (pts_240, bin_x_240, bin_y_240), (pts_270, bin_x_270, bin_y_270),
    (pts_300, bin_x_300, bin_y_300), (pts_330, bin_x_330, bin_y_330),
]

FONT = "Liberation Sans"
col_px = [(48, 280), (349, 582)]
row_top0, row_h, row_pitch = 31, 166, 228

fig = go.Figure()
layout = dict(
    width=W, height=H, autosize=False,
    margin=dict(l=0, r=0, t=0, b=0),
    paper_bgcolor="white", plot_bgcolor="white",
    showlegend=True,
    font=dict(family=FONT, color="black"),
)
annotations = []

for i, (pts, bx, by) in enumerate(panels):
    r, c = divmod(i, 2)
    k = "" if i == 0 else str(i + 1)
    xa, ya = "x" + k, "y" + k
    lg = "legend" if i == 0 else "legend" + str(i + 1)
    x0p, x1p = col_px[c]
    top = row_top0 + r * row_pitch
    bot = top + row_h
    xd = [x0p / W, x1p / W]
    yd = [1 - bot / H, 1 - top / H]

    fig.add_trace(go.Scatter(
        x=[p[0] for p in pts], y=[p[1] for p in pts], mode="markers",
        marker=dict(size=2.9, color="rgba(30,30,240,0.9)"),
        name="10min", xaxis=xa, yaxis=ya, legend=lg, hoverinfo="skip"))
    fig.add_trace(go.Scatter(
        x=bx, y=by, mode="lines+markers",
        line=dict(color="#33e633", width=2),
        marker=dict(symbol="circle", size=8, color="#b4f5b4",
                    line=dict(color="#22d622", width=1.5)),
        name="Bin90%", xaxis=xa, yaxis=ya, legend=lg))
    fig.add_trace(go.Scatter(
        x=design_ws, y=design_ti, mode="lines", line_shape="spline",
        line=dict(color="black", width=1.2, dash="dot"),
        name="Design", xaxis=xa, yaxis=ya, legend=lg))

    axis_common = dict(
        showline=True, linecolor="#303030", linewidth=1, mirror="ticks",
        ticks="inside", ticklen=3, tickcolor="#303030",
        showgrid=True, gridcolor="#e3e3e3", gridwidth=1, zeroline=False,
        fixedrange=True,
    )
    layout["xaxis" + k] = dict(axis_common, domain=xd, range=[4, 18], tickvals=x_ticks,
                               anchor=ya, tickfont=dict(size=15.5, family=FONT),
                               ticklabelstandoff=-3)
    layout["yaxis" + k] = dict(axis_common, domain=yd, range=[0, 0.4], tickvals=y_ticks,
                               ticktext=y_tick_text,
                               anchor=xa, tickfont=dict(size=15, family=FONT))
    layout[lg] = dict(
        x=(x1p - 2) / W, y=1 - (top + 1) / H, xanchor="right", yanchor="top",
        bgcolor="white", bordercolor="#444", borderwidth=1,
        font=dict(size=13, family=FONT), itemwidth=30, tracegroupgap=0,
    )
    cx = (x0p + x1p) / 2 / W
    annotations.append(dict(
        text=f"WindDir.:{wind_dirs[i]}deg, DataNumber:{data_numbers[i]}",
        x=cx, y=1 - (top - 16) / H, xref="paper", yref="paper",
        xanchor="center", yanchor="middle", showarrow=False,
        font=dict(size=14.5, family=FONT)))
    annotations.append(dict(
        text="Wind Speed[m/s]", x=cx, y=1 - (bot + 28) / H, xref="paper", yref="paper",
        xanchor="center", yanchor="middle", showarrow=False,
        font=dict(size=14.5, family=FONT)))
    annotations.append(dict(
        text="Turbulence Intensity[-]", x=(x0p - 33) / W, y=1 - (top + row_h / 2) / H,
        xref="paper", yref="paper", xanchor="center", yanchor="middle",
        textangle=-90, showarrow=False, font=dict(size=15, family=FONT)))

layout["annotations"] = annotations
fig.update_layout(**layout)
fig.write_html("out.html", config={"displayModeBar": False},
               post_script="document.body.style.margin='0px';")
